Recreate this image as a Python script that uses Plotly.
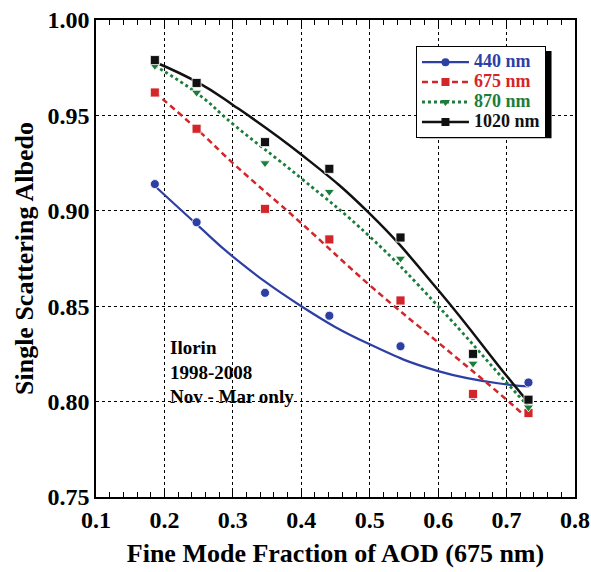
import plotly.graph_objects as go

# Data points (Fine Mode Fraction vs Single Scattering Albedo)
fmf = [0.186, 0.247, 0.347, 0.441, 0.545, 0.651, 0.732]
ssa_440 = [0.914, 0.894, 0.857, 0.845, 0.829, 0.803, 0.810]
ssa_675 = [0.962, 0.943, 0.901, 0.885, 0.853, 0.804, 0.794]
ssa_870 = [0.976, 0.962, 0.925, 0.910, 0.875, 0.820, 0.797]
ssa_1020 = [0.979, 0.967, 0.936, 0.922, 0.886, 0.825, 0.801]

# Fitted curves
fit_x = [0.186, 0.25, 0.30, 0.40, 0.50, 0.60, 0.70, 0.733]
fit_x_675 = [0.186, 0.25, 0.30, 0.40, 0.50, 0.60, 0.70, 0.725]
fit_440 = [0.913, 0.892, 0.876, 0.850, 0.830, 0.816, 0.809, 0.808]
fit_675 = [0.962, 0.942, 0.925, 0.8935, 0.861, 0.831, 0.801, 0.793]
fit_870 = [0.976, 0.961, 0.9455, 0.917, 0.8865, 0.850, 0.810, 0.797]
fit_1020 = [0.978, 0.967, 0.9555, 0.9295, 0.8985, 0.8585, 0.8135, 0.799]

names = ["440 nm", "675 nm", "870 nm", "1020 nm"]
colors = ["#2e3fa3", "#d2262b", "#1b7d3a", "#111111"]
symbols = ["circle", "square", "triangle-down", "square"]
dashes = ["solid", "6px,4px", "3px,3px", "solid"]
widths = [2.2, 2.5, 2.8, 2.5]

SERIF = "Liberation Serif, Times New Roman, serif"

fig = go.Figure()

pts = [ssa_440, ssa_675, ssa_870, ssa_1020]
fits = [fit_440, fit_675, fit_870, fit_1020]
fxs = [fit_x, fit_x_675, fit_x, fit_x]

for i in range(4):
    fig.add_trace(go.Scatter(
        x=fxs[i], y=fits[i], mode="lines", showlegend=False,
        line=dict(color=colors[i], width=widths[i], dash=dashes[i],
                  shape="spline", smoothing=1.3)))
for i in range(4):
    fig.add_trace(go.Scatter(
        x=fmf, y=pts[i], mode="markers", showlegend=False,
        marker=dict(color=colors[i], symbol=symbols[i], size=9,
                    line=dict(color="white", width=0.8))))
for i in range(4):
    fig.add_trace(go.Scatter(
        x=[None], y=[None], mode="lines+markers",
        name=f"<span style='color:{colors[i]};font-size:18px'>{names[i]}</span>",
        line=dict(color=colors[i], width=widths[i], dash=dashes[i]),
        marker=dict(color=colors[i], symbol=symbols[i], size=8)))

axis_common = dict(
    showline=True, linecolor="black", linewidth=1.5,
    showgrid=True, gridcolor="black", gridwidth=1, griddash="dot",
    zeroline=False, automargin=False, ticklabeloverflow="allow",
    tickfont=dict(family=SERIF, size=24, color="black", weight="bold"),
)

fig.update_xaxes(
    range=[0.1, 0.8], dtick=0.1, tick0=0.1, tickformat=".1f",
    mirror="ticks", ticks="inside", ticklen=6, tickcolor="black",
    minor=dict(dtick=0.02, ticks="inside", ticklen=5, tickcolor="black", showgrid=False),
    title=dict(text="Fine Mode Fraction of AOD (675 nm)",
               font=dict(family=SERIF, size=26, color="black", weight="bold"),
               standoff=12),
    **axis_common)
fig.update_yaxes(
    range=[0.75, 1.0], dtick=0.05, tick0=0.75, tickformat=".2f",
    mirror=True, ticks="",
    title=dict(text="Single Scattering Albedo",
               font=dict(family=SERIF, size=26, color="black", weight="bold"),
               standoff=6),
    **axis_common)

fig.add_annotation(
    x=0.205, y=0.8155, xref="x", yref="y", xanchor="left", yanchor="middle",
    text="Ilorin<br>1998-2008<br>Nov - Mar only", showarrow=False, align="left",
    font=dict(family=SERIF, size=19, color="black", weight="bold"))

# legend shadow
fig.add_shape(type="rect", xref="paper", yref="paper",
              x0=0.676, x1=0.951, y0=0.752, y1=0.935,
              fillcolor="black", line=dict(width=0), layer="below")

fig.update_layout(
    width=591, height=572,
    margin=dict(l=96, r=16, t=20, b=75, autoexpand=False),
    paper_bgcolor="white", plot_bgcolor="white",
    legend=dict(x=0.668, y=0.945, xanchor="left", yanchor="top",
                bgcolor="white", bordercolor="black", borderwidth=1,
                font=dict(family=SERIF, size=13, color="black", weight="bold"),
                itemwidth=47, tracegroupgap=0),
)

fig.write_html("out.html",
               config={"displayModeBar": False},
               post_script="document.body.style.margin='0';document.body.style.overflow='hidden';")
